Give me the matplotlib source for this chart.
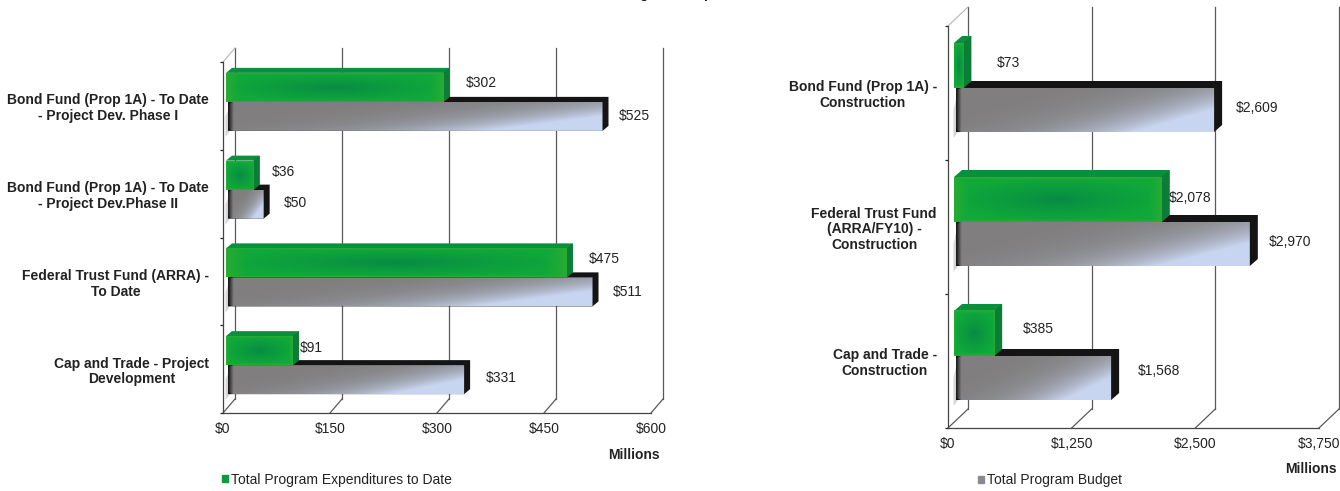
import numpy as np
import matplotlib
matplotlib.use("Agg")
import matplotlib.pyplot as plt
from matplotlib.patches import Polygon, PathPatch, Patch
from matplotlib.path import Path
from matplotlib.colors import to_rgb

W, H = 1340, 491
plt.rcParams['font.family'] = ['Liberation Sans', 'DejaVu Sans']

left_categories = ["Bond Fund (Prop 1A) - To Date\n- Project Dev. Phase I",
                   "Bond Fund (Prop 1A) - To Date\n- Project Dev.Phase II",
                   "Federal Trust Fund (ARRA) -\nTo Date",
                   "Cap and Trade - Project\nDevelopment"]
left_expenditures = [302, 36, 475, 91]
left_budget = [525, 50, 511, 331]
left_ticks = [0, 150, 300, 450, 600]
left_ticklabels = ["$0", "$150", "$300", "$450", "$600"]

right_categories = ["Bond Fund (Prop 1A) -\nConstruction",
                    "Federal Trust Fund\n(ARRA/FY10) -\nConstruction",
                    "Cap and Trade -\nConstruction"]
right_expenditures = [73, 2078, 385]
right_budget = [2609, 2970, 1568]
right_ticks = [0, 1250, 2500, 3750]
right_ticklabels = ["$0", "$1,250", "$2,500", "$3,750"]

expenditure_label = "Total Program Expenditures to Date"
budget_label = "Total Program Budget"

fig = plt.figure(figsize=(W / 100, H / 100), dpi=100, facecolor="white")
FS = 10


def green_image(nx=160, ny=40):
    u, v = np.meshgrid(np.linspace(-1, 1, nx), np.linspace(-1, 1, ny))
    r = np.clip(np.sqrt(u ** 2 + v ** 2) / 1.0, 0, 1)[..., None]
    dark, bright = np.array(to_rgb("#078a45")), np.array(to_rgb("#0fa83a"))
    img = dark + (bright - dark) * r ** 0.8
    edge = np.clip((np.maximum(np.abs(u), np.abs(v)) - 0.88) / 0.12, 0, 1)[..., None]
    return img + (np.array(to_rgb("#45b02c")) - img) * edge * 0.45


def gray_image(px_w, nx=220, ny=40):
    u, v = np.meshgrid(np.linspace(0, 1, nx), np.linspace(0, 1, ny))
    t = np.clip(0.72 * u + 0.42 * v, 0, 1)[..., None] ** 4.0
    t = np.clip(t * 1.4, 0, 1)
    dark, light = np.array(to_rgb("#807e7e")), np.array(to_rgb("#c8d5f0"))
    img = dark + (light - dark) * t
    edge = np.clip(1 - u * px_w / 5.0, 0, 1)[..., None]
    return img * (1 - edge) + np.array(to_rgb("#1c1c1c")) * edge


def draw_chart(box, categories, greens, grays, ticks, ticklabels, wall, start, depth,
               green_h, gray_h, center_shift, pad, green_offsets, gray_offsets):
    x0, x1, y0, y1 = box
    ax = fig.add_axes([x0 / W, 1 - y1 / H, (x1 - x0) / W, (y1 - y0) / H])
    n = len(categories)
    xmax = ticks[-1]
    sx = (x1 - x0) / xmax           # px per value
    sy = (y1 - y0) / n              # px per category
    ax.patch.set_alpha(0)
    wdx, wdy = wall[0] / sx, wall[1] / sy
    ddx, ddy = depth[0] / sx, depth[1] / sy
    b0 = start / sx
    g0 = (start - 2) / sx
    shift = center_shift / sy

    # back wall and floor
    for t in ticks:
        ax.plot([t + wdx, t + wdx], [n - wdy, -wdy], color="#5a5a5a", lw=0.9, clip_on=False, zorder=1)
        ax.plot([t, t + wdx], [n, n - wdy], color="#5a5a5a", lw=0.9, clip_on=False, zorder=1)
    ax.plot([0, wdx], [0, -wdy], color="#b5b5b5", lw=0.8, clip_on=False, zorder=1)

    for i in range(n):
        mid = i + 0.5 + shift
        gh, yh = green_h / sy, gray_h / sy
        # gray bar
        val = grays[i]
        top, bot = mid, mid + yh
        # faint shadow left of the gray bar
        ax.add_patch(Polygon([(b0 + 1 / sx, top + 6 / sy), (b0 - 2.5 / sx, top + yh * 0.5), (b0 - 2.5 / sx, bot + 6 / sy),
                              (b0 + 2 / sx, bot)], closed=True, fc="#d8d4d8", ec="none", zorder=2, clip_on=False))
        ax.add_patch(Polygon([(b0 + ddx, top - ddy), (b0 + val + ddx, top - ddy),
                              (b0 + val + ddx, bot - ddy), (b0 + val, bot), (b0, bot), (b0, top)],
                             closed=True, fc="#141414", ec="none", zorder=3, clip_on=False))
        bar = ax.barh(mid + yh / 2, val, height=yh, left=b0, color="#8f8d8d", zorder=4, clip_on=False)[0]
        im = ax.imshow(gray_image(val * sx), extent=(b0, b0 + val, bot, top), aspect="auto",
                       zorder=5, interpolation="bilinear", clip_on=True)
        rx, ry = min(6 / sx, val / 2), 6 / sy
        verts = [(b0 + rx, top), (b0 + val, top), (b0 + val, bot), (b0 + rx, bot),
                 (b0, bot), (b0, bot - ry), (b0, top + ry), (b0, top), (b0 + rx, top)]
        codes = [Path.MOVETO, Path.LINETO, Path.LINETO, Path.LINETO,
                 Path.CURVE3, Path.CURVE3, Path.LINETO, Path.CURVE3, Path.CURVE3]
        clip = PathPatch(Path(verts, codes), transform=ax.transData)
        im.set_clip_path(clip)
        bar.set_visible(False)
        ax.annotate(f"${val:,}", (b0 + val, mid + yh / 2), xytext=gray_offsets[i], textcoords="offset pixels",
                    ha="center", va="center", fontsize=FS, color="#222222", zorder=8, annotation_clip=False)

        # green bar
        val = greens[i]
        top, bot = mid - gh, mid
        ax.add_patch(Polygon([(g0, top), (g0 + ddx, top - ddy), (b0 + val + ddx, top - ddy),
                              (b0 + val + ddx, bot - ddy), (b0 + val, bot), (b0 + val, top)],
                             closed=True, fc="#0a8f3c", ec="none", zorder=6, clip_on=False))
        ax.add_patch(Polygon([(b0 + val, top), (b0 + val + ddx, top - ddy),
                              (b0 + val + ddx, bot - ddy), (b0 + val, bot)],
                             closed=True, fc="#0b7d37", ec="none", zorder=6, clip_on=False))
        ax.imshow(green_image(), extent=(g0, b0 + val, bot, top), aspect="auto", zorder=7,
                  interpolation="bilinear")
        ax.annotate(f"${val:,}", (b0 + val, mid - gh / 2), xytext=green_offsets[i], textcoords="offset pixels",
                    ha="center", va="center", fontsize=FS, color="#222222", zorder=8, annotation_clip=False)

    ax.set_xlim(0, xmax)
    ax.set_ylim(n, 0)
    for s in ("top", "right"):
        ax.spines[s].set_visible(False)
    for s in ("left", "bottom"):
        ax.spines[s].set_color("#444444")
        ax.spines[s].set_linewidth(0.9)
    ax.set_xticks(ticks, ticklabels, fontsize=FS, color="#222222")
    ax.tick_params(axis="x", length=0, pad=6.5)
    ax.set_yticks(np.arange(n) + 0.5, categories, fontsize=FS, fontweight="bold", color="#222222")
    ax.tick_params(axis="y", which="major", length=0, pad=pad)
    for lab in ax.get_yticklabels():
        lab.set_multialignment("center")
        lab.set_linespacing(1.15)
    ax.set_yticks(np.arange(n + 1), minor=True)
    ax.tick_params(axis="y", which="minor", length=2.5, width=0.9, color="#222222")
    return ax


ax1 = draw_chart((223, 651, 62, 413), left_categories, left_expenditures, left_budget,
                 left_ticks, left_ticklabels, wall=(12, 14), start=5, depth=(6, 5),
                 green_h=29, gray_h=29, center_shift=-4, pad=10,
                 green_offsets=[(38, 4), (30, 3), (37, 4), (18, 3)],
                 gray_offsets=[(32, 0), (32, 1), (35, 0), (37, 2)])
ax2 = draw_chart((948, 1319, 26, 428), right_categories, right_expenditures, right_budget,
                 right_ticks, right_ticklabels, wall=(20, 19), start=8, depth=(8, 7),
                 green_h=45, gray_h=44, center_shift=-5, pad=8,
                 green_offsets=[(45, 2), (29, 1), (44, 5)],
                 gray_offsets=[(43, 2), (40, 2), (48, 7)])

ax1.legend(handles=[Patch(color="#0a9a40", label=expenditure_label)], loc="center left",
           bbox_to_anchor=(-0.0194, -0.19), frameon=False, fontsize=FS, handlelength=0.45, handleheight=0.45,
           handletextpad=0.25, borderpad=0, labelcolor="#222222")
ax2.legend(handles=[Patch(color="#8b8a92", label=budget_label)], loc="center left",
           bbox_to_anchor=(0.0615, -0.13), frameon=False, fontsize=FS, handlelength=0.45, handleheight=0.45,
           handletextpad=0.25, borderpad=0, labelcolor="#222222")
fig.text(634 / W, 1 - 455 / H, "Millions", fontsize=FS, fontweight="bold", ha="center", va="center", color="#222222")
fig.text(1311 / W, 1 - 469 / H, "Millions", fontsize=FS, fontweight="bold", ha="center", va="center", color="#222222")
# the reference's title runs off the top edge: only two descenders are legible
fig.text(644 / W, 1 + 1.5 / H, "g", fontsize=FS, fontweight="bold", ha="center", va="baseline", color="#111111")
fig.text(707 / W, 1 + 1.5 / H, "p", fontsize=FS, fontweight="bold", ha="center", va="baseline", color="#111111")

fig.savefig("out.png", dpi=100)
